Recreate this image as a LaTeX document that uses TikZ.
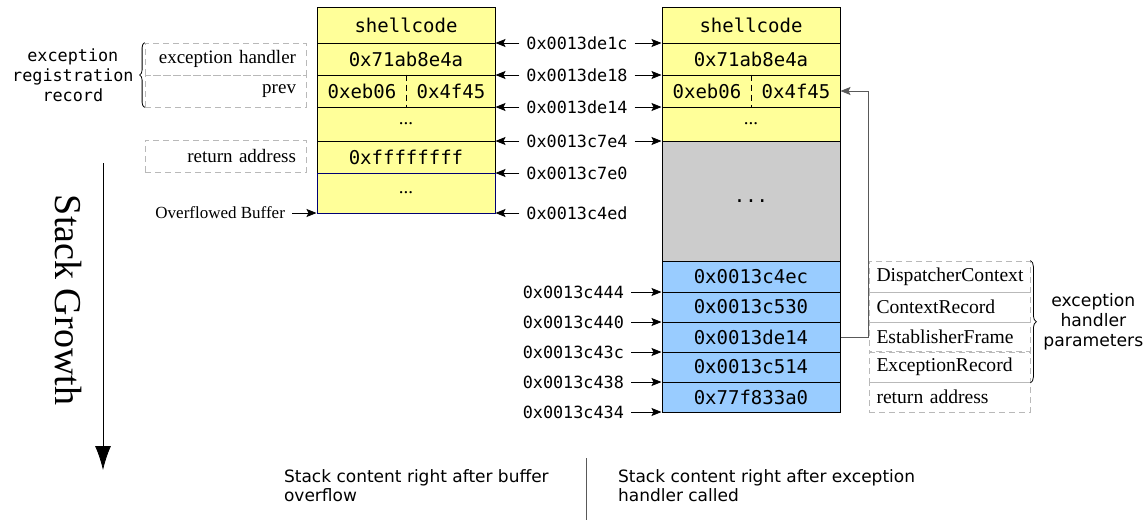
\documentclass[tikz,border=0pt]{standalone}
\usepackage{fontspec}
\setmainfont{Liberation Serif}
\setsansfont{DejaVu Sans}
\setmonofont{DejaVu Sans Mono}
\usepackage{tikz}
\usetikzlibrary{positioning, arrows.meta, decorations.pathreplacing}
\definecolor{cellyellow}{RGB}{255,255,153}
\definecolor{cellblue}{RGB}{153,204,255}
\definecolor{cellgray}{RGB}{204,204,204}

\begin{document}
\begin{tikzpicture}[x=0.5pt, y=-0.5pt,
        >={Stealth[length=5pt, width=4pt, inset=1pt]},
        cell/.style={draw, line width=0.5pt, inner sep=0pt, minimum width=89pt, font=\ttfamily\fontsize{9.5}{11}\selectfont},
        ycell/.style={cell, fill=cellyellow},
        bcell/.style={cell, fill=cellblue},
        gcell/.style={cell, fill=cellgray},
        half/.style={inner sep=0pt, font=\ttfamily\fontsize{9.5}{11}\selectfont},
        addr/.style={font=\ttfamily\fontsize{8.4}{10}\selectfont},
        lbox/.style={draw=gray!55, densely dashed, minimum height=16pt, text width=70.5pt, inner xsep=5pt, align=right, font=\rmfamily\fontsize{9.5}{11}\selectfont},
        rbox/.style={draw=gray!55, densely dashed, text width=73pt, inner xsep=3.75pt, align=left, font=\rmfamily\fontsize{9.8}{11}\selectfont},
        caption/.style={align=left, font=\sffamily\fontsize{8.5}{9.6}\selectfont}]
        \useasboundingbox (0,0) rectangle (1148,520);
        % stack after the overflow
        \node [ycell, minimum height=18pt] (ls1) at (406,25) {shellcode};
        \node [ycell, minimum height=16pt] (ls2) at (406,59) {0x71ab8e4a};
        \node [ycell, minimum height=16pt] (ls3) at (406,91) {};
        \node [half] (ls3a) at (362,91) {0xeb06};
        \node [half] (ls3b) at (451,91) {0x4f45};
        \draw [densely dashed] (ls3.north) to (ls3.south);
        \node [ycell, minimum height=17pt] (ls4) at (406,124) {\rmfamily ...};
        \node [ycell, minimum height=16pt] (ls5) at (406,157) {0xffffffff};
        \node [ycell, minimum height=20pt, draw=blue!45!black] (ls6) at (406,193) {\rmfamily ...};
        % stack once the handler runs
        \node [ycell, minimum height=18pt] (rs1) at (751,25) {shellcode};
        \node [ycell, minimum height=16pt] (rs2) at (751,59) {0x71ab8e4a};
        \node [ycell, minimum height=16pt] (rs3) at (751,91) {};
        \node [half] (rs3a) at (707,91) {0xeb06};
        \node [half] (rs3b) at (796,91) {0x4f45};
        \draw [densely dashed] (rs3.north) to (rs3.south);
        \node [ycell, minimum height=17pt] (rs4) at (751,124) {\rmfamily ...};
        \node [gcell, minimum height=60pt] (rs5) at (751,201) {...};
        \node [bcell, minimum height=15.5pt] (rs6) at (751,276.5) {0x0013c4ec};
        \node [bcell, minimum height=15pt] (rs7) at (751,307) {0x0013c530};
        \node [bcell, minimum height=15pt] (rs8) at (751,337) {0x0013de14};
        \node [bcell, minimum height=15pt] (rs9) at (751,367) {0x0013c514};
        \node [bcell, minimum height=15pt] (rs10) at (751,397) {0x77f833a0};
        % addresses between the stacks
        \node [addr] (a1) at (577,43) {0x0013de1c};
        \node [addr] (a2) at (577,75) {0x0013de18};
        \node [addr] (a3) at (577,107) {0x0013de14};
        \node [addr] (a4) at (577,141) {0x0013c7e4};
        \node [addr] (a5) at (577,173) {0x0013c7e0};
        \node [addr] (a6) at (577,213) {0x0013c4ed};
        \draw [->] (a1) to (a1 -| ls1.east);
        \draw [->] (a2) to (a2 -| ls2.east);
        \draw [->] (a3) to (a3 -| ls3.east);
        \draw [->] (a4) to (a4 -| ls4.east);
        \draw [->] (a5) to (a5 -| ls5.east);
        \draw [->] (a6) to (a6 -| ls6.east);
        \draw [->] (a1) to (a1 -| rs1.west);
        \draw [->] (a2) to (a2 -| rs2.west);
        \draw [->] (a3) to (a3 -| rs3.west);
        \draw [->] (a4) to (a4 -| rs4.west);
        \node [addr, anchor=east] (b1) at (631,292) {0x0013c444};
        \node [addr, anchor=east] (b2) at (631,322) {0x0013c440};
        \node [addr, anchor=east] (b3) at (631,352) {0x0013c43c};
        \node [addr, anchor=east] (b4) at (631,382) {0x0013c438};
        \node [addr, anchor=east] (b5) at (631,412) {0x0013c434};
        \draw [->] (b1) to (b1 -| rs7.west);
        \draw [->] (b2) to (b2 -| rs8.west);
        \draw [->] (b3) to (b3 -| rs9.west);
        \draw [->] (b4) to (b4 -| rs10.west);
        \draw [->] (b5) to (b5 -| rs10.west);
        % labels on the left
        \node [lbox] (eh) at (225.5,59) {exception handler};
        \node [lbox] (prev) at (225.5,91) {prev};
        \node [lbox] (ra) at (225.5,156) {return address};
        \draw [decorate, decoration={brace, amplitude=2.5pt}, xshift=-2.5pt] (prev.south west) to node [midway, left=2pt, addr, align=center] (err) {exception\\registration\\record} (eh.north west);
        \node [font=\rmfamily\fontsize{8.5}{10}\selectfont, anchor=east] (ob) at (292,213) {Overflowed Buffer};
        \draw [->] (ob) to (ob -| ls6.west);
        % handler parameters
        \node [rbox, minimum height=15.5pt] (p1) at (949.5,276.5) {DispatcherContext};
        \node [rbox, minimum height=15pt] (p2) at (949.5,307) {ContextRecord};
        \node [rbox, minimum height=15pt] (p3) at (949.5,337) {EstablisherFrame};
        \node [rbox, minimum height=15pt] (p4) at (949.5,367) {ExceptionRecord};
        \node [rbox, minimum height=15pt] (p5) at (949.5,397) {return address};
        \draw [decorate, decoration={brace, amplitude=3pt}, xshift=3.5pt] (p1.north east) to node [midway, right=3pt, align=center, font=\sffamily\fontsize{8.6}{10}\selectfont] (hp) {exception\\handler\\parameters} (p4.south east);
        \draw [->, gray!70!black] (rs8.east) to (p3.west) |- (rs3.east);
        % growth direction
        \node [rotate=-90, font=\rmfamily\fontsize{19}{22}\selectfont] (sg) at (68,300) {Stack Growth};
        \coordinate (sgtop) at (103,163);
        \coordinate (sgbot) at (103,470);
        \draw [-{Latex[length=12pt, width=8pt]}] (sgtop) to (sgbot);
        % captions
        \node [caption, anchor=west] (c1) at (277,485.5) {Stack content right after buffer\\overflow};
        \node [caption, anchor=west] (c2) at (611,485.5) {Stack content right after exception\\handler called};
        \coordinate (dtop) at (586,458);
        \coordinate (dbot) at (586,520);
        \draw [gray!70!black] (dtop) to (dbot);
    \end{tikzpicture}
\end{document}
